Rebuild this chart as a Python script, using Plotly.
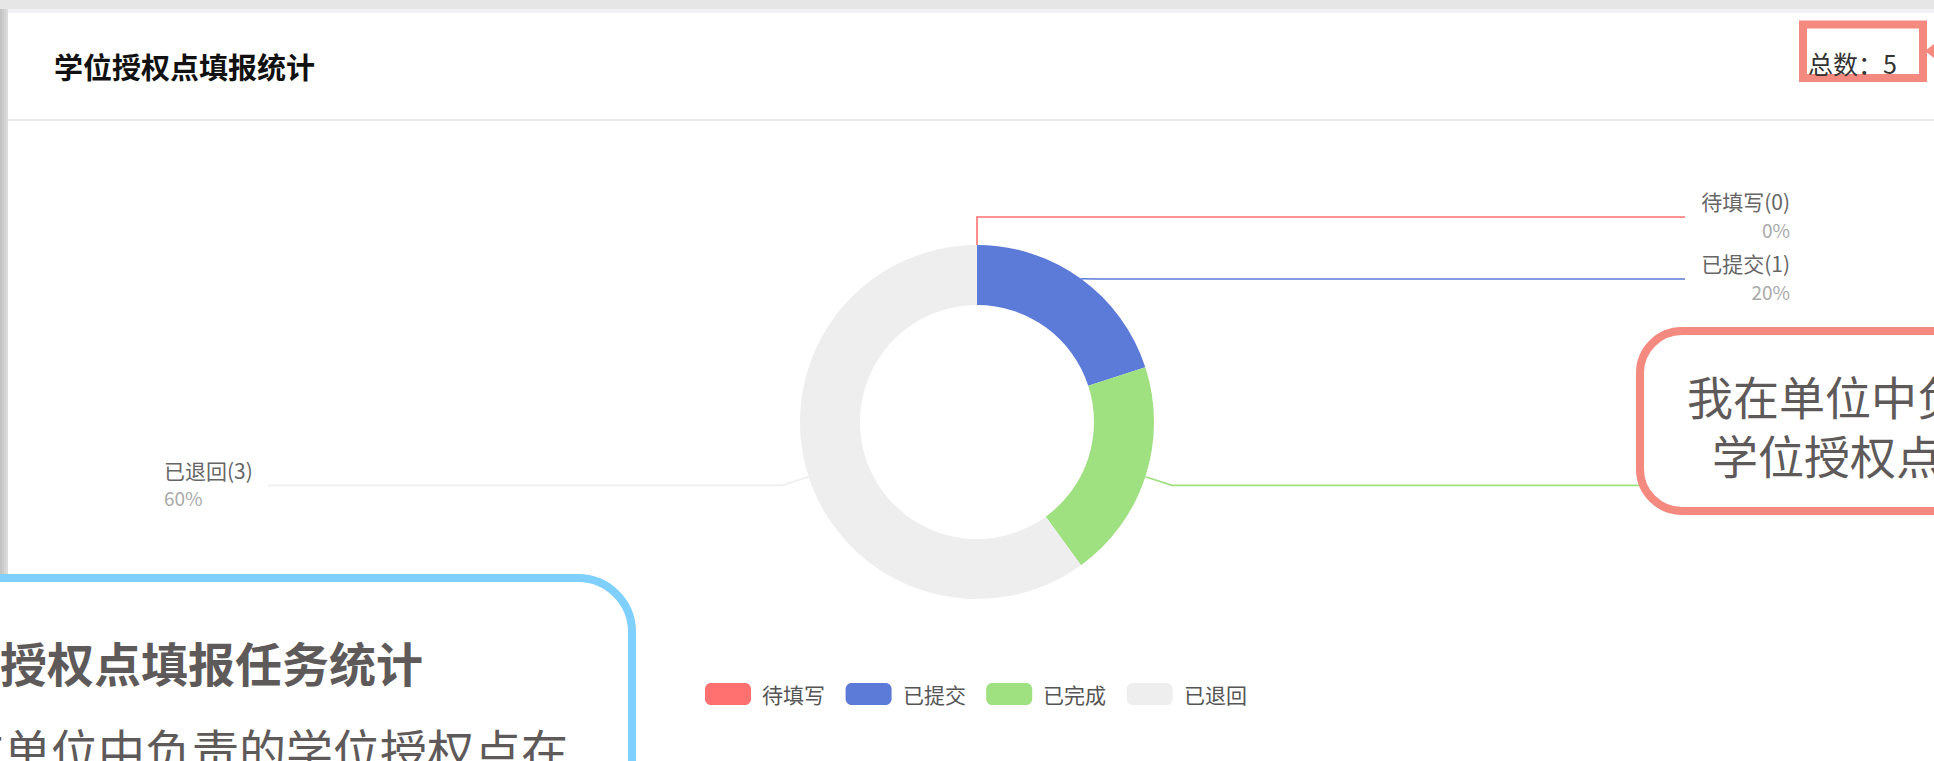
import math
import plotly.graph_objects as go

# ---------------- data ----------------
categories = ["待填写", "已提交", "已完成", "已退回"]
counts = [0, 1, 1, 3]
colors = ["#ff7070", "#5c7bd9", "#9fe080", "#eeeeee"]
chart_title = "学位授权点填报统计"
total_label = "总数："
note_left_lines = ["学位授权点填报任务统计", "我在单位中负责的学位授权点在"]
note_right_lines = ["我在单位中负责的", "学位授权点填报情况"]

W, H = 1934, 761
FONT = "Noto Sans CJK SC, Microsoft YaHei, sans-serif"
TXT = "#5f5a5a"

total = sum(counts)

# donut geometry (pixels)
cx, cy, R = 977, 422, 177
hole = 117 / 177
line1 = 28          # radial label-line length
right_edge, left_edge = 1790, 164
line_end_right, line_end_left = 1685, 268
min_gap = 62

# right callout box (pixels)
rbox = (1640, 331, 2150, 511)


def rr_path(x0, y0, x1, y1, r):
    k = 0.5523 * r
    return (f"M{x0+r},{y0} L{x1-r},{y0} C{x1-r+k},{y0} {x1},{y0+r-k} {x1},{y0+r} "
            f"L{x1},{y1-r} C{x1},{y1-r+k} {x1-r+k},{y1} {x1-r},{y1} "
            f"L{x0+r},{y1} C{x0+r-k},{y1} {x0},{y1-r+k} {x0},{y1-r} "
            f"L{x0},{y0+r} C{x0},{y0+r-k} {x0+r-k},{y0} {x0+r},{y0} Z")


fig = go.Figure()

# ---------------- donut ----------------
fig.add_trace(go.Pie(
    labels=categories, values=counts, hole=hole, sort=False,
    direction="clockwise", rotation=0, textinfo="none",
    marker=dict(colors=colors, line=dict(width=0)),
    domain=dict(x=[(cx - R) / W, (cx + R) / W],
                y=[(H - cy - R) / H, (H - cy + R) / H]),
    showlegend=False, hoverinfo="label+value+percent",
))

# ---------------- label lines & labels ----------------
cum = 0
items = []
for name, v, col in zip(categories, counts, colors):
    a = math.radians((cum + v / 2) / total * 360)
    cum += v
    px, py = cx + R * math.sin(a), cy - R * math.cos(a)
    qx, qy = cx + (R + line1) * math.sin(a), cy - (R + line1) * math.cos(a)
    side = 1 if math.sin(a) >= -1e-9 else -1
    items.append(dict(name=name, v=v, col=col, px=px, py=py, qx=qx, qy=qy, side=side, y=qy))

for side in (1, -1):
    grp = sorted([it for it in items if it["side"] == side], key=lambda d: d["y"])
    prev = None
    for it in grp:
        if prev is not None and it["y"] < prev + min_gap:
            it["y"] = prev + min_gap
        prev = it["y"]

for it in items:
    end = line_end_right if it["side"] == 1 else line_end_left
    fig.add_trace(go.Scatter(
        x=[it["px"], it["qx"], end], y=[it["py"], it["y"], it["y"]],
        mode="lines", line=dict(color=it["col"], width=1.6),
        hoverinfo="skip", showlegend=False))
    tx = right_edge if it["side"] == 1 else left_edge
    # label hidden behind the right callout box in the screenshot
    if rbox[0] < tx < rbox[2] and rbox[1] < it["y"] < rbox[3]:
        continue
    pos = "middle left" if it["side"] == 1 else "middle right"
    fig.add_trace(go.Scatter(
        x=[tx, tx], y=[it["y"] - 12, it["y"] + 16], mode="text",
        text=[f"{it['name']}({it['v']})", f"{round(it['v'] / total * 100)}%"],
        textposition=pos,
        textfont=dict(family=FONT, size=[21, 19], color=["#666666", "#aaaaaa"]),
        hoverinfo="skip", showlegend=False))

shapes = []
annotations = []

# ---------------- page chrome ----------------
shapes.append(dict(type="rect", x0=0, x1=W, y0=0, y1=9, fillcolor="#e6e6e6", line_width=0, layer="below"))
shapes.append(dict(type="rect", x0=0, x1=W, y0=9, y1=13, fillcolor="#f1f1f5", line_width=0, layer="below"))
for i, c in enumerate(["#c4c4c4", "#cccccc", "#d4d4d4", "#dcdcdc"]):
    shapes.append(dict(type="rect", x0=2 * i, x1=2 * i + 2, y0=9, y1=575, fillcolor=c, line_width=0, layer="below"))
shapes.append(dict(type="line", x0=8, x1=W, y0=120, y1=120, line=dict(color="#ececec", width=2), layer="below"))

annotations.append(dict(x=52, y=66, xref="x", yref="y", text=f"<b>{chart_title}</b>", showarrow=False,
                        xanchor="left", yanchor="middle", font=dict(family=FONT, size=29, color="#111111")))
annotations.append(dict(x=1806, y=63, xref="x", yref="y", text=f"{total_label}{total}", showarrow=False,
                        xanchor="left", yanchor="middle", font=dict(family=FONT, size=25, color="#333333")))
shapes.append(dict(type="rect", x0=1803, x1=1923, y0=24.5, y1=78, line=dict(color="#f4897f", width=8),
                   fillcolor="rgba(0,0,0,0)", layer="above"))
shapes.append(dict(type="path", path="M1934,44 L1925,51 L1934,58 Z", fillcolor="#f4897f", line_width=0, layer="above"))

# ---------------- legend ----------------
leg_x0, leg_step, leg_y = 705, 140.6, 694
for i, (name, col) in enumerate(zip(categories, colors)):
    x0 = leg_x0 + i * leg_step
    shapes.append(dict(type="path", path=rr_path(x0, leg_y - 11, x0 + 46, leg_y + 11, 6),
                       fillcolor=col, line_width=0, layer="above"))
    annotations.append(dict(x=x0 + 55, y=leg_y, xref="x", yref="y", text=name, showarrow=False,
                            xanchor="left", yanchor="middle", font=dict(family=FONT, size=21, color="#555555")))

# ---------------- callout boxes ----------------
shapes.append(dict(type="path", path=rr_path(*rbox, 42), fillcolor="white",
                   line=dict(color="#f4897f", width=8), layer="above"))
annotations.append(dict(x=1685, y=395, xref="x", yref="y", text=note_right_lines[0], showarrow=False,
                        xanchor="left", yanchor="middle", font=dict(family=FONT, size=46, color=TXT)))
annotations.append(dict(x=1710, y=454, xref="x", yref="y", text=note_right_lines[1], showarrow=False,
                        xanchor="left", yanchor="middle", font=dict(family=FONT, size=46, color=TXT)))

shapes.append(dict(type="path", path=rr_path(-200, 578, 632, 950, 54), fillcolor="white",
                   line=dict(color="#7fcfff", width=8), layer="above"))
annotations.append(dict(x=425, y=661, xref="x", yref="y", text=f"<b>{note_left_lines[0]}</b>", showarrow=False,
                        xanchor="right", yanchor="middle", font=dict(family=FONT, size=47, color=TXT)))
annotations.append(dict(x=570, y=748, xref="x", yref="y", text=note_left_lines[1], showarrow=False,
                        xanchor="right", yanchor="middle", font=dict(family=FONT, size=47, color=TXT)))

fig.update_layout(
    width=W, height=H, margin=dict(l=0, r=0, t=0, b=0),
    paper_bgcolor="white", plot_bgcolor="white",
    xaxis=dict(range=[0, W], visible=False, fixedrange=True),
    yaxis=dict(range=[H, 0], visible=False, fixedrange=True),
    shapes=shapes, annotations=annotations, showlegend=False,
    font=dict(family=FONT),
)

fig.write_html(
    "out.html",
    config={"displayModeBar": False},
    post_script="document.body.style.margin='0';document.body.style.overflow='hidden';",
)
